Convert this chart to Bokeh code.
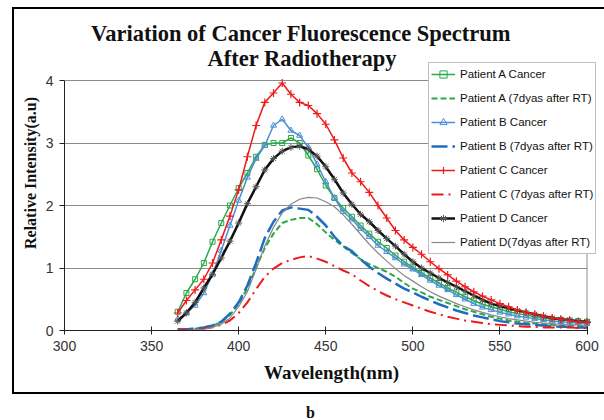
from bokeh.plotting import figure
from bokeh.models import (Range1d, Legend, LegendItem, Label, FixedTicker,
                          InlineStyleSheet, Div)
from bokeh.layouts import column
from bokeh.embed import file_html
from bokeh.resources import INLINE

# ---------------- data ----------------
wavelength = [365, 370, 375, 380, 385, 390, 395, 400,
              405, 410, 415, 420, 425, 430, 435, 440,
              445, 450, 455, 460, 465, 470, 475, 480,
              485, 490, 495, 500, 505, 510, 515, 520,
              525, 530, 535, 540, 545, 550, 555, 560,
              565, 570, 575, 580, 585, 590, 595, 600]

a_cancer = [0.30, 0.60, 0.82, 1.08, 1.42, 1.72, 2.00, 2.28,
            2.52, 2.78, 2.97, 3.00, 3.00, 3.08, 3.00, 2.80,
            2.58, 2.32, 2.12, 1.96, 1.82, 1.68, 1.55, 1.42,
            1.32, 1.20, 1.10, 1.01, 0.92, 0.84, 0.76, 0.68,
            0.61, 0.54, 0.48, 0.42, 0.38, 0.34, 0.30, 0.27,
            0.25, 0.22, 0.20, 0.18, 0.17, 0.16, 0.15, 0.14]

a_after = [0.02, 0.02, 0.03, 0.05, 0.08, 0.13, 0.25, 0.42,
           0.68, 1.00, 1.32, 1.55, 1.72, 1.77, 1.80, 1.80,
           1.70, 1.57, 1.45, 1.35, 1.24, 1.14, 1.06, 1.00,
           0.94, 0.86, 0.76, 0.67, 0.61, 0.54, 0.49, 0.44,
           0.39, 0.34, 0.30, 0.26, 0.22, 0.19, 0.16, 0.14,
           0.12, 0.11, 0.10, 0.09, 0.08, 0.08, 0.07, 0.07]

b_cancer = [0.18, 0.28, 0.40, 0.60, 0.90, 1.28, 1.68, 2.08,
            2.45, 2.75, 2.96, 3.28, 3.38, 3.20, 3.12, 2.93,
            2.66, 2.38, 2.12, 1.90, 1.78, 1.63, 1.50, 1.36,
            1.26, 1.16, 1.06, 0.98, 0.89, 0.80, 0.72, 0.65,
            0.57, 0.50, 0.43, 0.37, 0.33, 0.29, 0.26, 0.23,
            0.21, 0.19, 0.17, 0.15, 0.14, 0.13, 0.12, 0.11]

b_after = [0.02, 0.02, 0.03, 0.05, 0.08, 0.14, 0.27, 0.45,
           0.72, 1.08, 1.48, 1.74, 1.92, 1.97, 1.95, 1.93,
           1.82, 1.68, 1.50, 1.35, 1.27, 1.14, 1.02, 0.92,
           0.83, 0.75, 0.67, 0.61, 0.54, 0.48, 0.42, 0.37,
           0.32, 0.28, 0.24, 0.21, 0.18, 0.15, 0.13, 0.11,
           0.10, 0.09, 0.08, 0.07, 0.06, 0.06, 0.05, 0.05]

c_cancer = [0.28, 0.48, 0.65, 0.82, 1.08, 1.45, 1.83, 2.25,
            2.78, 3.28, 3.65, 3.80, 3.96, 3.78, 3.65, 3.60,
            3.47, 3.30, 3.05, 2.76, 2.52, 2.38, 2.21, 2.00,
            1.80, 1.60, 1.45, 1.33, 1.22, 1.10, 0.99, 0.89,
            0.79, 0.70, 0.62, 0.55, 0.49, 0.43, 0.38, 0.33,
            0.29, 0.26, 0.23, 0.20, 0.18, 0.16, 0.14, 0.13]

c_after = [0.01, 0.01, 0.02, 0.03, 0.05, 0.09, 0.16, 0.28,
           0.45, 0.66, 0.86, 0.99, 1.08, 1.13, 1.17, 1.19,
           1.15, 1.10, 1.03, 0.96, 0.90, 0.80, 0.71, 0.63,
           0.56, 0.50, 0.45, 0.40, 0.35, 0.30, 0.26, 0.22,
           0.19, 0.16, 0.14, 0.12, 0.10, 0.09, 0.08, 0.07,
           0.06, 0.06, 0.05, 0.05, 0.05, 0.05, 0.04, 0.04]

d_cancer = [0.15, 0.28, 0.45, 0.68, 0.90, 1.16, 1.43, 1.72,
            2.03, 2.30, 2.57, 2.75, 2.87, 2.93, 2.95, 2.90,
            2.79, 2.62, 2.42, 2.20, 2.02, 1.86, 1.74, 1.60,
            1.47, 1.35, 1.22, 1.10, 1.00, 0.92, 0.84, 0.77,
            0.70, 0.63, 0.56, 0.49, 0.43, 0.39, 0.35, 0.32,
            0.29, 0.26, 0.23, 0.20, 0.18, 0.17, 0.15, 0.14]

d_after = [0.00, 0.00, 0.01, 0.02, 0.05, 0.10, 0.20, 0.38,
           0.62, 0.98, 1.35, 1.65, 1.88, 2.02, 2.10, 2.13,
           2.12, 2.06, 1.98, 1.85, 1.70, 1.54, 1.38, 1.24,
           1.11, 0.99, 0.88, 0.79, 0.70, 0.62, 0.55, 0.49,
           0.43, 0.38, 0.33, 0.29, 0.25, 0.22, 0.19, 0.17,
           0.15, 0.13, 0.12, 0.11, 0.10, 0.09, 0.09, 0.08]

x_ticks = [300, 350, 400, 450, 500, 550, 600]
y_ticks = [0, 1, 2, 3, 4]

labels = ["Patient A Cancer", "Patient A (7dyas after RT)",
          "Patient B Cancer", "Patient B (7dyas after RT)",
          "Patient C Cancer", "Patient C (7dyas after RT)",
          "Patient D Cancer", "Patient D(7dyas after RT)"]

title_line1 = "Variation of Cancer Fluorescence Spectrum"
title_line2 = "After Radiotherapy"
x_label = "Wavelength(nm)"
y_label = "Relative Intensity(a.u)"
panel_tag = "b"

# ---------------- outer chart border (CSS overlay) ----------------
box_css = InlineStyleSheet(css="""
:host { position: relative; }
:host::after {
  content: "";
  position: absolute;
  left: 12px; top: 7px;
  width: 592px; height: 387px;
  border-left: 2.5px solid #000;
  border-top: 2.5px solid #000;
  border-bottom: 2.5px solid #000;
  box-sizing: border-box;
  pointer-events: none;
  z-index: 10;
}
""")

# ---------------- figure ----------------
# the frame is taller/wider than the 300-600 x 0-4 data box so that the
# legend and the title (which overhang the plot area) are not clipped
p = figure(width=604, height=402, output_backend="svg", toolbar_location=None,
           title=None, stylesheets=[box_css],
           x_range=Range1d(300, 606.6), y_range=Range1d(0, 5.04),
           min_border_left=64, min_border_right=6,
           min_border_top=15, min_border_bottom=72)

p.background_fill_color = "white"
p.border_fill_color = "white"
p.outline_line_color = None

p.xgrid.visible = False
grid = p.ygrid[0]
grid.ticker = FixedTicker(ticks=y_ticks)
grid.grid_line_color = "#8c8c8c"
grid.grid_line_width = 1
if "cross_bounds" in grid.properties():
    grid.cross_bounds = (x_ticks[0], x_ticks[-1])

p.xaxis.ticker = FixedTicker(ticks=x_ticks)
p.yaxis.ticker = FixedTicker(ticks=y_ticks)
p.xaxis.bounds = (x_ticks[0], x_ticks[-1])
p.yaxis.bounds = (y_ticks[0], y_ticks[-1])
for ax in (p.xaxis[0], p.yaxis[0]):
    ax.axis_line_color = "#222222"
    ax.major_tick_line_color = "#222222"
    ax.minor_tick_line_color = None
    ax.major_label_text_font = "Liberation Sans"
    ax.major_label_text_font_size = "14px"
    ax.major_label_text_color = "#333333"
    ax.axis_label_text_font = "Liberation Serif"
    ax.axis_label_text_font_style = "bold"
    ax.axis_label_text_color = "#111111"

p.xaxis.major_tick_in = 4
p.xaxis.major_tick_out = 4
p.xaxis.major_label_standoff = 6
p.xaxis.axis_label = x_label
p.xaxis.axis_label_text_font_size = "19px"
p.xaxis.axis_label_standoff = 8

p.yaxis.major_tick_in = 0
p.yaxis.major_tick_out = 5
p.yaxis.major_label_standoff = 6
p.yaxis.axis_label = y_label
p.yaxis.axis_label_text_font_size = "16px"
p.yaxis.axis_label_standoff = 4

# right border of the plot area (at the last x tick, from the first to last y tick)
p.segment(x0=[x_ticks[-1]], y0=[y_ticks[0]], x1=[x_ticks[-1]], y1=[y_ticks[-1]],
          line_color="#8c8c8c", line_width=1)

green = "#2aa84a"
blue_c = "#4a8fd6"
blue_d = "#1f6cc0"
red = "#f01818"
black = "#111111"
grey = "#888888"

# cancer series (line + markers)
la = p.line(wavelength, a_cancer, line_color=green, line_width=1.5)
sa = p.scatter(wavelength, a_cancer, marker="square", size=5, line_color=green,
               fill_alpha=0, line_width=1)
lb = p.line(wavelength, b_cancer, line_color=blue_c, line_width=1.5)
sb = p.scatter(wavelength, b_cancer, marker="triangle", size=6, line_color=blue_c,
               fill_alpha=0, line_width=1)
ld = p.line(wavelength, d_cancer, line_color=black, line_width=2.5)
sd = p.scatter(wavelength, d_cancer, marker="asterisk", size=7, line_color="#555555",
               line_width=1)
lc = p.line(wavelength, c_cancer, line_color=red, line_width=1.5)
sc = p.scatter(wavelength, c_cancer, marker="cross", size=8, line_color=red,
               line_width=1.2)

# 7 days after RT
l_a7 = p.line(wavelength, a_after, line_color=green, line_width=2, line_dash="6 3")
l_b7 = p.line(wavelength, b_after, line_color=blue_d, line_width=2.5, line_dash="16 5")
l_c7 = p.line(wavelength, c_after, line_color=red, line_width=2, line_dash="12 5 2 5")
l_d7 = p.line(wavelength, d_after, line_color=grey, line_width=1.2)

items = [
    LegendItem(label=labels[0], renderers=[la, sa]),
    LegendItem(label=labels[1], renderers=[l_a7]),
    LegendItem(label=labels[2], renderers=[lb, sb]),
    LegendItem(label=labels[3], renderers=[l_b7]),
    LegendItem(label=labels[4], renderers=[lc, sc]),
    LegendItem(label=labels[5], renderers=[l_c7]),
    LegendItem(label=labels[6], renderers=[ld, sd]),
    LegendItem(label=labels[7], renderers=[l_d7]),
]
legend = Legend(items=items, location=(364, 76),
                label_text_font="Liberation Sans", label_text_font_size="11.5px",
                label_text_color="#111111",
                glyph_width=24, glyph_height=18, label_height=18,
                spacing=6, padding=2, margin=0, label_standoff=5,
                border_line_color="#808080", border_line_width=1,
                background_fill_color="white", background_fill_alpha=1)
p.add_layout(legend)

# two-line chart title
title_font = dict(text_font="Liberation Serif", text_font_style="bold",
                  text_font_size="22.5px", text_color="#111111",
                  text_align="center", text_baseline="alphabetic")
p.add_layout(Label(x=435.8, y=4.75, text=title_line1, **title_font))
p.add_layout(Label(x=436.5, y=4.345, text=title_line2, **title_font))

# panel caption below the chart
tag = Div(text=f"<div style='padding-left:306px;padding-top:3px'>{panel_tag}</div>",
          width=604, height=18, margin=0,
          styles={"font-family": "Liberation Serif", "font-weight": "bold",
                  "font-size": "16px", "line-height": "15px", "color": "#111111"})

layout = column(p, tag, spacing=0)
open("out.html", "w").write(file_html(layout, INLINE))
